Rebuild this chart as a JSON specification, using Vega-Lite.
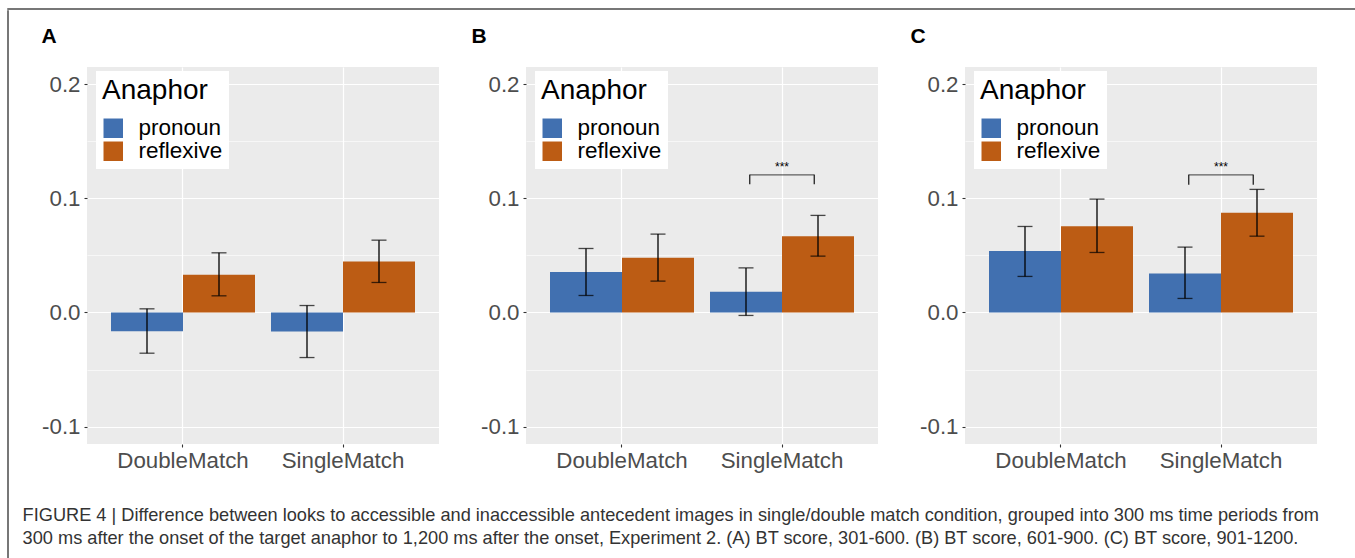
{
  "$schema": "https://vega.github.io/schema/vega-lite/v6.json",
  "padding": {"left": 7, "top": 8, "right": 0, "bottom": 0},
  "background": "white",
  "config": {
    "font": "Liberation Sans",
    "view": {"stroke": null},
    "axis": {"labelFont": "Liberation Sans"},
    "legend": {"labelFont": "Liberation Sans", "titleFont": "Liberation Sans"}
  },
  "datasets": {
    "bars": [
      {"panel": "A", "cond": "DoubleMatch", "anaphor": "pronoun", "mean": -0.0164, "lo": -0.0357, "hi": 0.0032},
      {"panel": "A", "cond": "DoubleMatch", "anaphor": "reflexive", "mean": 0.033, "lo": 0.0146, "hi": 0.0523},
      {"panel": "A", "cond": "SingleMatch", "anaphor": "pronoun", "mean": -0.0167, "lo": -0.0395, "hi": 0.0061},
      {"panel": "A", "cond": "SingleMatch", "anaphor": "reflexive", "mean": 0.0447, "lo": 0.0263, "hi": 0.0634},
      {"panel": "B", "cond": "DoubleMatch", "anaphor": "pronoun", "mean": 0.0354, "lo": 0.0149, "hi": 0.0561},
      {"panel": "B", "cond": "DoubleMatch", "anaphor": "reflexive", "mean": 0.0479, "lo": 0.0275, "hi": 0.0687},
      {"panel": "B", "cond": "SingleMatch", "anaphor": "pronoun", "mean": 0.0181, "lo": -0.0026, "hi": 0.0391},
      {"panel": "B", "cond": "SingleMatch", "anaphor": "reflexive", "mean": 0.0669, "lo": 0.0494, "hi": 0.0851},
      {"panel": "C", "cond": "DoubleMatch", "anaphor": "pronoun", "mean": 0.0538, "lo": 0.0316, "hi": 0.0754},
      {"panel": "C", "cond": "DoubleMatch", "anaphor": "reflexive", "mean": 0.0757, "lo": 0.0526, "hi": 0.0994},
      {"panel": "C", "cond": "SingleMatch", "anaphor": "pronoun", "mean": 0.0342, "lo": 0.0123, "hi": 0.0573},
      {"panel": "C", "cond": "SingleMatch", "anaphor": "reflexive", "mean": 0.0874, "lo": 0.0669, "hi": 0.1079}
    ],
    "sig": [
      {"panel": "B", "cond": "SingleMatch", "top": 0.1207, "leg": 0.1125, "ty": 0.1274, "label": "***"},
      {"panel": "C", "cond": "SingleMatch", "top": 0.1207, "leg": 0.112, "ty": 0.1274, "label": "***"}
    ],
    "none": []
  },
  "spacing": 0,
  "vconcat": [
    {
      "width": 1347, "height": 0.001,
      "view": {"stroke": "#4a4a4a", "strokeWidth": 1.5, "fill": null},
      "data": {"name": "none"},
      "mark": {"type": "text"},
      "encoding": {"text": {"value": ""}}
    },
    {
      "spacing": 13,
      "hconcat": [
        {
          "width": 0.001, "height": 548,
          "view": {"stroke": "#4a4a4a", "strokeWidth": 1.5, "fill": null},
          "data": {"name": "none"},
          "mark": {"type": "text"},
          "encoding": {"text": {"value": ""}}
        },
        {
          "spacing": 14,
          "vconcat": [
            {
              "width": 1, "height": 0.001,
              "data": {"name": "none"},
              "mark": {"type": "text"},
              "encoding": {"text": {"value": ""}}
            },
            {
              "spacing": 32,
              "resolve": {"scale": {"color": "independent"}, "legend": {"color": "independent"}},
              "title": {
                "text": [
                  "FIGURE 4 | Difference between looks to accessible and inaccessible antecedent images in single/double match condition, grouped into 300 ms time periods from",
                  "300 ms after the onset of the target anaphor to 1,200 ms after the onset, Experiment 2. (A) BT score, 301-600. (B) BT score, 601-900. (C) BT score, 901-1200."
                ],
                "orient": "bottom", "anchor": "start", "frame": "bounds", "dx": -19,
                "fontSize": 18.2, "fontWeight": "normal", "font": "Liberation Sans", "color": "#333333",
                "lineHeight": 23, "offset": 36
              },
              "hconcat": [
                {
                  "width": 352, "height": 377,
                  "view": {"fill": "#EBEBEB", "stroke": null},
                  "title": {"text": "A", "anchor": "start", "frame": "bounds", "dx": 0, "fontSize": 21, "fontWeight": "bold", "font": "Liberation Sans", "color": "black", "offset": 20},
                  "encoding": {
                    "x": {"field": "cond", "type": "nominal", "sort": ["DoubleMatch", "SingleMatch"], "title": null,
                      "scale": {"paddingInner": 0.1, "paddingOuter": 0.15},
                      "axis": {"labelFontSize": 22.3, "labelColor": "#4D4D4D", "labelAngle": 0, "tickSize": 3, "tickColor": "#333333", "tickWidth": 1.1, "grid": true, "gridColor": "white", "gridWidth": 1.2, "domain": false, "bandPosition": 0.5, "labelPadding": 2}}
                  },
                  "layer": [
                    {
                      "data": {"name": "bars"}, "transform": [{"filter": "datum.panel === 'A'"}],
                      "mark": {"type": "bar"},
                      "encoding": {
                        "xOffset": {"field": "anaphor", "sort": ["pronoun", "reflexive"], "scale": {"paddingInner": 0, "paddingOuter": 0}},
                        "y": {"field": "mean", "type": "quantitative", "title": null, "scale": {"domain": [-0.1153, 0.2152], "nice": false, "zero": false},
                          "axis": {"values": [-0.1, -0.05, 0, 0.05, 0.1, 0.15, 0.2], "labelExpr": "abs(round(datum.value*20)%2)==0 ? (datum.value < 0 ? '-' : '') + format(abs(datum.value), '.1f') : ''", "labelOverlap": false, "labelFontSize": 22.3, "labelColor": "#4D4D4D", "labelPadding": 4, "tickSize": 3, "tickColor": "#333333", "tickWidth": 1.1, "tickOpacity": {"condition": {"test": "abs(round(datum.value*20)%2)==0", "value": 1}, "value": 0}, "grid": true, "gridColor": "white", "gridWidth": {"condition": {"test": "abs(round(datum.value*20)%2)==0", "value": 1.2}, "value": 0.6}, "domain": false}},
                        "color": {"field": "anaphor", "type": "nominal", "scale": {"domain": ["pronoun", "reflexive"], "range": ["#4170B0", "#BC5C14"]},
                          "legend": {"orient": "none", "legendX": 9, "legendY": 4, "title": "Anaphor", "titleFontSize": 28, "titleFontWeight": "normal", "titleColor": "black", "titlePadding": 12, "labelFontSize": 22.5, "labelColor": "black", "labelOffset": 14, "symbolType": "square", "symbolSize": 380, "symbolStrokeWidth": 0, "symbolOpacity": 1, "fillColor": "white", "padding": 6, "rowPadding": 0}}
                      }
                    },
                    {
                      "data": {"name": "bars"}, "transform": [{"filter": "datum.panel === 'A'"}],
                      "mark": {"type": "rule", "color": "black", "strokeWidth": 1.3},
                      "encoding": {
                        "xOffset": {"field": "anaphor", "sort": ["pronoun", "reflexive"]},
                        "y": {"field": "lo", "type": "quantitative", "title": null},
                        "y2": {"field": "hi"}
                      }
                    },
                    {
                      "data": {"name": "bars"}, "transform": [{"filter": "datum.panel === 'A'"}],
                      "mark": {"type": "tick", "color": "black", "thickness": 1.3, "size": 15},
                      "encoding": {
                        "xOffset": {"field": "anaphor", "sort": ["pronoun", "reflexive"]},
                        "y": {"field": "lo", "type": "quantitative", "title": null}
                      }
                    },
                    {
                      "data": {"name": "bars"}, "transform": [{"filter": "datum.panel === 'A'"}],
                      "mark": {"type": "tick", "color": "black", "thickness": 1.3, "size": 15},
                      "encoding": {
                        "xOffset": {"field": "anaphor", "sort": ["pronoun", "reflexive"]},
                        "y": {"field": "hi", "type": "quantitative", "title": null}
                      }
                    }
                  ]
                },
                {
                  "width": 352, "height": 377,
                  "view": {"fill": "#EBEBEB", "stroke": null},
                  "title": {"text": "B", "anchor": "start", "frame": "bounds", "dx": -9, "fontSize": 21, "fontWeight": "bold", "font": "Liberation Sans", "color": "black", "offset": 20},
                  "encoding": {
                    "x": {"field": "cond", "type": "nominal", "sort": ["DoubleMatch", "SingleMatch"], "title": null,
                      "scale": {"paddingInner": 0.1, "paddingOuter": 0.15},
                      "axis": {"labelFontSize": 22.3, "labelColor": "#4D4D4D", "labelAngle": 0, "tickSize": 3, "tickColor": "#333333", "tickWidth": 1.1, "grid": true, "gridColor": "white", "gridWidth": 1.2, "domain": false, "bandPosition": 0.5, "labelPadding": 2}}
                  },
                  "layer": [
                    {
                      "data": {"name": "bars"}, "transform": [{"filter": "datum.panel === 'B'"}],
                      "mark": {"type": "bar"},
                      "encoding": {
                        "xOffset": {"field": "anaphor", "sort": ["pronoun", "reflexive"], "scale": {"paddingInner": 0, "paddingOuter": 0}},
                        "y": {"field": "mean", "type": "quantitative", "title": null, "scale": {"domain": [-0.1153, 0.2152], "nice": false, "zero": false},
                          "axis": {"values": [-0.1, -0.05, 0, 0.05, 0.1, 0.15, 0.2], "labelExpr": "abs(round(datum.value*20)%2)==0 ? (datum.value < 0 ? '-' : '') + format(abs(datum.value), '.1f') : ''", "labelOverlap": false, "labelFontSize": 22.3, "labelColor": "#4D4D4D", "labelPadding": 4, "tickSize": 3, "tickColor": "#333333", "tickWidth": 1.1, "tickOpacity": {"condition": {"test": "abs(round(datum.value*20)%2)==0", "value": 1}, "value": 0}, "grid": true, "gridColor": "white", "gridWidth": {"condition": {"test": "abs(round(datum.value*20)%2)==0", "value": 1.2}, "value": 0.6}, "domain": false}},
                        "color": {"field": "anaphor", "type": "nominal", "scale": {"domain": ["pronoun", "reflexive"], "range": ["#4170B0", "#BC5C14"]},
                          "legend": {"orient": "none", "legendX": 9, "legendY": 4, "title": "Anaphor", "titleFontSize": 28, "titleFontWeight": "normal", "titleColor": "black", "titlePadding": 12, "labelFontSize": 22.5, "labelColor": "black", "labelOffset": 14, "symbolType": "square", "symbolSize": 380, "symbolStrokeWidth": 0, "symbolOpacity": 1, "fillColor": "white", "padding": 6, "rowPadding": 0}}
                      }
                    },
                    {
                      "data": {"name": "bars"}, "transform": [{"filter": "datum.panel === 'B'"}],
                      "mark": {"type": "rule", "color": "black", "strokeWidth": 1.3},
                      "encoding": {
                        "xOffset": {"field": "anaphor", "sort": ["pronoun", "reflexive"]},
                        "y": {"field": "lo", "type": "quantitative", "title": null},
                        "y2": {"field": "hi"}
                      }
                    },
                    {
                      "data": {"name": "bars"}, "transform": [{"filter": "datum.panel === 'B'"}],
                      "mark": {"type": "tick", "color": "black", "thickness": 1.3, "size": 15},
                      "encoding": {
                        "xOffset": {"field": "anaphor", "sort": ["pronoun", "reflexive"]},
                        "y": {"field": "lo", "type": "quantitative", "title": null}
                      }
                    },
                    {
                      "data": {"name": "bars"}, "transform": [{"filter": "datum.panel === 'B'"}],
                      "mark": {"type": "tick", "color": "black", "thickness": 1.3, "size": 15},
                      "encoding": {
                        "xOffset": {"field": "anaphor", "sort": ["pronoun", "reflexive"]},
                        "y": {"field": "hi", "type": "quantitative", "title": null}
                      }
                    },
                    {
                      "data": {"name": "sig"}, "transform": [{"filter": "datum.panel === 'B'"}],
                      "mark": {"type": "tick", "color": "#222222", "thickness": 1.3, "size": 65},
                      "encoding": {"y": {"field": "top", "type": "quantitative", "title": null}}
                    },
                    {
                      "data": {"name": "sig"}, "transform": [{"filter": "datum.panel === 'B'"}],
                      "mark": {"type": "rule", "color": "#222222", "strokeWidth": 1.3},
                      "encoding": {
                        "x": {"field": "cond", "type": "nominal", "sort": ["DoubleMatch", "SingleMatch"], "bandPosition": 0.276},
                        "y": {"field": "top", "type": "quantitative", "title": null}, "y2": {"field": "leg"}
                      }
                    },
                    {
                      "data": {"name": "sig"}, "transform": [{"filter": "datum.panel === 'B'"}],
                      "mark": {"type": "rule", "color": "#222222", "strokeWidth": 1.3},
                      "encoding": {
                        "x": {"field": "cond", "type": "nominal", "sort": ["DoubleMatch", "SingleMatch"], "bandPosition": 0.724},
                        "y": {"field": "top", "type": "quantitative", "title": null}, "y2": {"field": "leg"}
                      }
                    },
                    {
                      "data": {"name": "sig"}, "transform": [{"filter": "datum.panel === 'B'"}],
                      "mark": {"type": "text", "fontSize": 12, "color": "black", "baseline": "middle"},
                      "encoding": {"y": {"field": "ty", "type": "quantitative", "title": null}, "text": {"field": "label"}}
                    }
                  ]
                },
                {
                  "width": 352, "height": 377,
                  "view": {"fill": "#EBEBEB", "stroke": null},
                  "title": {"text": "C", "anchor": "start", "frame": "bounds", "dx": -9, "fontSize": 21, "fontWeight": "bold", "font": "Liberation Sans", "color": "black", "offset": 20},
                  "encoding": {
                    "x": {"field": "cond", "type": "nominal", "sort": ["DoubleMatch", "SingleMatch"], "title": null,
                      "scale": {"paddingInner": 0.1, "paddingOuter": 0.15},
                      "axis": {"labelFontSize": 22.3, "labelColor": "#4D4D4D", "labelAngle": 0, "tickSize": 3, "tickColor": "#333333", "tickWidth": 1.1, "grid": true, "gridColor": "white", "gridWidth": 1.2, "domain": false, "bandPosition": 0.5, "labelPadding": 2}}
                  },
                  "layer": [
                    {
                      "data": {"name": "bars"}, "transform": [{"filter": "datum.panel === 'C'"}],
                      "mark": {"type": "bar"},
                      "encoding": {
                        "xOffset": {"field": "anaphor", "sort": ["pronoun", "reflexive"], "scale": {"paddingInner": 0, "paddingOuter": 0}},
                        "y": {"field": "mean", "type": "quantitative", "title": null, "scale": {"domain": [-0.1153, 0.2152], "nice": false, "zero": false},
                          "axis": {"values": [-0.1, -0.05, 0, 0.05, 0.1, 0.15, 0.2], "labelExpr": "abs(round(datum.value*20)%2)==0 ? (datum.value < 0 ? '-' : '') + format(abs(datum.value), '.1f') : ''", "labelOverlap": false, "labelFontSize": 22.3, "labelColor": "#4D4D4D", "labelPadding": 4, "tickSize": 3, "tickColor": "#333333", "tickWidth": 1.1, "tickOpacity": {"condition": {"test": "abs(round(datum.value*20)%2)==0", "value": 1}, "value": 0}, "grid": true, "gridColor": "white", "gridWidth": {"condition": {"test": "abs(round(datum.value*20)%2)==0", "value": 1.2}, "value": 0.6}, "domain": false}},
                        "color": {"field": "anaphor", "type": "nominal", "scale": {"domain": ["pronoun", "reflexive"], "range": ["#4170B0", "#BC5C14"]},
                          "legend": {"orient": "none", "legendX": 9, "legendY": 4, "title": "Anaphor", "titleFontSize": 28, "titleFontWeight": "normal", "titleColor": "black", "titlePadding": 12, "labelFontSize": 22.5, "labelColor": "black", "labelOffset": 14, "symbolType": "square", "symbolSize": 380, "symbolStrokeWidth": 0, "symbolOpacity": 1, "fillColor": "white", "padding": 6, "rowPadding": 0}}
                      }
                    },
                    {
                      "data": {"name": "bars"}, "transform": [{"filter": "datum.panel === 'C'"}],
                      "mark": {"type": "rule", "color": "black", "strokeWidth": 1.3},
                      "encoding": {
                        "xOffset": {"field": "anaphor", "sort": ["pronoun", "reflexive"]},
                        "y": {"field": "lo", "type": "quantitative", "title": null},
                        "y2": {"field": "hi"}
                      }
                    },
                    {
                      "data": {"name": "bars"}, "transform": [{"filter": "datum.panel === 'C'"}],
                      "mark": {"type": "tick", "color": "black", "thickness": 1.3, "size": 15},
                      "encoding": {
                        "xOffset": {"field": "anaphor", "sort": ["pronoun", "reflexive"]},
                        "y": {"field": "lo", "type": "quantitative", "title": null}
                      }
                    },
                    {
                      "data": {"name": "bars"}, "transform": [{"filter": "datum.panel === 'C'"}],
                      "mark": {"type": "tick", "color": "black", "thickness": 1.3, "size": 15},
                      "encoding": {
                        "xOffset": {"field": "anaphor", "sort": ["pronoun", "reflexive"]},
                        "y": {"field": "hi", "type": "quantitative", "title": null}
                      }
                    },
                    {
                      "data": {"name": "sig"}, "transform": [{"filter": "datum.panel === 'C'"}],
                      "mark": {"type": "tick", "color": "#222222", "thickness": 1.3, "size": 65},
                      "encoding": {"y": {"field": "top", "type": "quantitative", "title": null}}
                    },
                    {
                      "data": {"name": "sig"}, "transform": [{"filter": "datum.panel === 'C'"}],
                      "mark": {"type": "rule", "color": "#222222", "strokeWidth": 1.3},
                      "encoding": {
                        "x": {"field": "cond", "type": "nominal", "sort": ["DoubleMatch", "SingleMatch"], "bandPosition": 0.276},
                        "y": {"field": "top", "type": "quantitative", "title": null}, "y2": {"field": "leg"}
                      }
                    },
                    {
                      "data": {"name": "sig"}, "transform": [{"filter": "datum.panel === 'C'"}],
                      "mark": {"type": "rule", "color": "#222222", "strokeWidth": 1.3},
                      "encoding": {
                        "x": {"field": "cond", "type": "nominal", "sort": ["DoubleMatch", "SingleMatch"], "bandPosition": 0.724},
                        "y": {"field": "top", "type": "quantitative", "title": null}, "y2": {"field": "leg"}
                      }
                    },
                    {
                      "data": {"name": "sig"}, "transform": [{"filter": "datum.panel === 'C'"}],
                      "mark": {"type": "text", "fontSize": 12, "color": "black", "baseline": "middle"},
                      "encoding": {"y": {"field": "ty", "type": "quantitative", "title": null}, "text": {"field": "label"}}
                    }
                  ]
                }
              ]
            }
          ]
        }
      ]
    }
  ]
}
